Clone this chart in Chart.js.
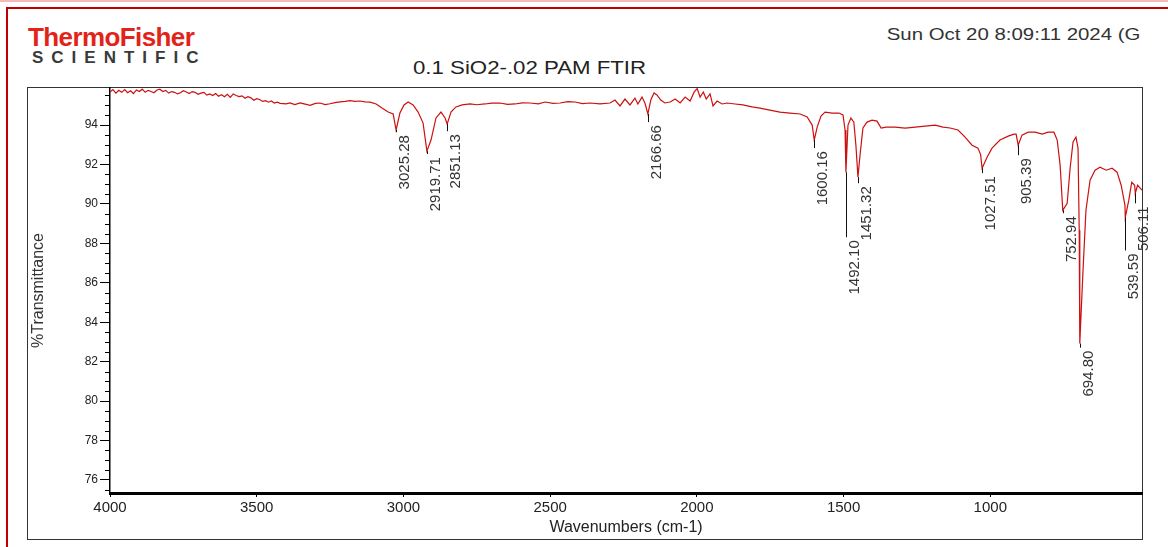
<!DOCTYPE html>
<html>
<head>
<meta charset="utf-8">
<script src="https://cdn.jsdelivr.net/npm/chart.js@4"></script>
<style>
  body { margin: 0; width: 1168px; height: 547px; overflow: hidden; background: #fff; position: relative; font-family: "Liberation Sans", Arial, sans-serif; }
  .pink { position: absolute; left: 0; top: 0; width: 1168px; height: 2px; background: #f6b9b9; }
  .redframe { position: absolute; left: 6px; top: 7px; width: 1200px; height: 600px; border-left: 2px solid #c00000; border-top: 2px solid #c00000; }
  .box { position: absolute; left: 27px; top: 87px; width: 1114px; height: 451px; border: 1px solid #333; }
  .logo1 { position: absolute; left: 28px; top: 24px; font-size: 26px; line-height: 26px; font-weight: bold; color: #e2231a; letter-spacing: -0.6px; }
  .logo2 { position: absolute; left: 32px; top: 49px; font-size: 17px; line-height: 17px; font-weight: bold; color: #3a3a3a; letter-spacing: 8px; }
  .date { position: absolute; right: 28px; top: 26px; font-size: 17px; line-height: 17px; color: #333; transform: scaleX(1.2); transform-origin: right center; white-space: nowrap; }
  .title { position: absolute; left: 413px; top: 58px; font-size: 19px; line-height: 19px; color: #222; transform: scaleX(1.17); transform-origin: left center; white-space: nowrap; }
  canvas { position: absolute; left: 0; top: 0; }
</style>
</head>
<body>
<div class="pink"></div>
<div class="redframe"></div>
<div class="box"></div>
<div class="logo1">ThermoFisher</div>
<div class="logo2">SCIENTIFIC</div>
<div class="date">Sun Oct 20 8:09:11 2024 (G</div>
<div class="title">0.1 SiO2-.02 PAM FTIR</div>
<canvas id="ftir" width="1168" height="547"></canvas>
<script>
// 光譜資料 (cm-1, %T)
const wavenumbers = [4000,3990,3980,3970,3960,3950,3940,3930,3920,3910,3900,3890,3880,3870,3860,3850,3840,3830,3820,3810,3800,3790,3780,3770,3760,3750,3740,3730,3720,3710,3700,3690,3680,3670,3660,3650,3640,3630,3620,3610,3600,3590,3580,3570,3560,3550,3540,3530,3520,3510,3500,3490,3480,3470,3460,3450,3440,3430,3420,3400,3387,3370,3352,3335,3318,3300,3284,3267,3250,3233,3216,3199,3182,3165,3148,3130,3114,3093,3073,3052,3035,3025,3012,2998,2984,2967,2950,2933,2920,2906,2889,2872,2858,2851,2838,2821,2800,2773,2750,2722,2700,2671,2645,2620,2595,2568,2540,2517,2490,2466,2440,2415,2390,2364,2330,2296,2279,2262,2245,2228,2211,2201,2187,2177,2167,2157,2146,2136,2123,2109,2091,2074,2057,2040,2023,2009,1999,1989,1978,1968,1955,1945,1931,1914,1897,1870,1843,1812,1785,1751,1717,1683,1648,1624,1607,1600,1590,1577,1563,1539,1516,1502,1495,1492,1485,1475,1465,1458,1451,1444,1434,1420,1403,1386,1372,1355,1325,1290,1256,1222,1188,1161,1137,1110,1086,1062,1042,1033,1028,1011,994,967,939,919,912,905,892,871,847,823,803,783,772,762,753,738,728,718,708,701,697,695,684,674,660,643,626,605,585,568,554,541,540,528,518,508,506,498,483];
const transmittance = [95.68,95.80,95.62,95.76,95.66,95.80,95.64,95.74,95.60,95.78,95.70,95.82,95.66,95.76,95.70,95.64,95.78,95.82,95.70,95.76,95.62,95.70,95.66,95.58,95.64,95.74,95.68,95.60,95.70,95.66,95.56,95.62,95.66,95.52,95.58,95.50,95.60,95.46,95.54,95.44,95.56,95.40,95.58,95.50,95.44,95.48,95.36,95.44,95.38,95.26,95.34,95.30,95.20,95.24,95.16,95.22,95.12,95.16,95.10,95.08,95.12,95.04,95.12,95.06,95.00,95.10,95.12,95.04,95.08,95.14,95.18,95.20,95.24,95.20,95.22,95.18,95.16,95.07,94.86,94.66,94.56,93.75,94.61,95.02,95.17,95.02,94.66,94.10,92.68,93.24,94.36,94.66,94.36,94.05,94.66,94.92,95.02,95.07,95.03,95.07,95.11,95.12,95.05,95.07,95.13,95.12,95.08,95.17,95.10,95.12,95.19,95.17,95.09,95.12,95.07,95.12,95.27,94.97,95.32,95.02,95.37,95.07,95.42,95.12,94.56,95.27,95.63,95.53,95.27,95.12,95.17,95.32,95.12,95.42,95.22,95.68,95.85,95.42,95.68,95.32,95.58,94.97,95.22,95.07,95.12,95.07,95.02,94.92,94.86,94.76,94.66,94.61,94.56,94.41,94.00,93.24,93.90,94.46,94.66,94.61,94.61,94.51,93.75,91.61,94.00,94.36,94.15,92.98,91.36,92.47,93.85,94.15,94.25,94.20,93.85,93.90,93.90,93.85,93.90,93.95,94.00,93.90,93.85,93.75,93.39,92.98,92.83,92.50,91.81,92.37,92.83,93.24,93.44,93.54,93.54,92.98,93.49,93.64,93.64,93.54,93.64,93.64,93.24,91.97,89.68,90.03,91.81,93.14,93.39,92.83,88.66,82.92,86.63,89.68,91.20,91.71,91.86,91.71,91.81,91.61,90.95,89.93,89.32,90.19,91.10,90.95,90.54,90.95,90.70];

// 標峰：位置、峰底 %T、標線末端 %T
const peakLabels = ['3025.28','2919.71','2851.13','2166.66','1600.16','1492.10','1451.32','1027.51','905.39','752.94','694.80','539.59','506.11'];
const peakWaves = [3025.28,2919.71,2851.13,2166.66,1600.16,1492.10,1451.32,1027.51,905.39,752.94,694.80,539.59,506.11];
const peakTs = [93.75,92.68,94.05,94.56,93.24,91.61,91.36,91.81,92.98,89.68,82.92,89.32,90.54];
const peakLineEnds = [93.64,92.53,93.69,94.15,92.83,88.31,91.05,91.56,92.47,89.53,82.71,87.64,90.03];

const xTicks = [4000,3500,3000,2500,2000,1500,1000];
const xMin = 483, xMax = 4000;
const yMin = 75.34, yMax = 95.88;
const yMinorStep = 0.5;

const FONT = '"Liberation Sans", Arial, sans-serif';

// 小刻度
const minorTicks = {
    id: 'minorTicks',
    afterDraw(chart) {
        const { ctx, chartArea, scales } = chart;
        const y = scales.y;
        ctx.save();
        ctx.strokeStyle = '#000';
        ctx.lineWidth = 1;
        for (let v = Math.ceil(yMin / yMinorStep) * yMinorStep; v <= yMax; v += yMinorStep) {
            if (Math.abs(v / 2 - Math.round(v / 2)) < 1e-6) continue;
            const py = Math.round(y.getPixelForValue(v)) + 0.5;
            ctx.beginPath();
            ctx.moveTo(chartArea.left - 5, py);
            ctx.lineTo(chartArea.left, py);
            ctx.stroke();
        }
        ctx.restore();
    }
};

// 峰值標註
const peakMarks = {
    id: 'peakMarks',
    afterDatasetsDraw(chart) {
        const { ctx, scales } = chart;
        ctx.save();
        ctx.strokeStyle = '#111';
        ctx.lineWidth = 1;
        ctx.fillStyle = '#333';
        ctx.font = '15px ' + FONT;
        peakWaves.forEach((w, i) => {
            const px = Math.round(scales.x.getPixelForValue(w)) + 0.5;
            const y1 = scales.y.getPixelForValue(peakTs[i]);
            const y2 = scales.y.getPixelForValue(peakLineEnds[i]);
            ctx.beginPath();
            ctx.moveTo(px, y1);
            ctx.lineTo(px, y2);
            ctx.stroke();
            ctx.save();
            ctx.translate(px + 1, y2 + 3);
            ctx.rotate(-Math.PI / 2);
            ctx.textAlign = 'right';
            ctx.textBaseline = 'top';
            ctx.fillText(peakLabels[i], 0, 0);
            ctx.restore();
        });
        ctx.restore();
    }
};

const ctx = document.getElementById('ftir').getContext('2d');
new Chart(ctx, {
    type: 'line',
    data: {
        datasets: [{
            data: wavenumbers.map((w, i) => ({ x: w, y: transmittance[i] })),
            borderColor: '#cc1010',
            borderWidth: 1.2,
            pointRadius: 0,
            tension: 0,
            fill: false
        }]
    },
    options: {
        responsive: false,
        animation: false,
        events: [],
        layout: { padding: { left: 27, top: 88, right: 26, bottom: 8 } },
        plugins: { legend: { display: false }, tooltip: { enabled: false } },
        scales: {
            x: {
                type: 'linear',
                reverse: true,
                min: xMin,
                max: xMax,
                afterBuildTicks: (scale) => { scale.ticks = xTicks.map(v => ({ value: v })); },
                afterFit: (scale) => { scale.height = 46; },
                ticks: { color: '#222', font: { family: FONT, size: 15 }, padding: 2, maxRotation: 0, autoSkip: false,
                         callback: (v) => String(v) },
                grid: { drawOnChartArea: false, tickLength: 4, color: '#000' },
                border: { display: true, color: '#000', width: 3 },
                title: { display: true, text: 'Wavenumbers (cm-1)', color: '#222', font: { family: FONT, size: 16 }, padding: { top: 0, bottom: 2 } }
            },
            y: {
                min: yMin,
                max: yMax,
                afterFit: (scale) => { scale.width = 83; },
                ticks: { stepSize: 2, includeBounds: false, color: '#222', font: { family: FONT, size: 12 }, padding: 2 },
                grid: { drawOnChartArea: false, tickLength: 10, color: '#000' },
                border: { display: true, color: '#000', width: 1.5 },
                title: { display: true, text: '%Transmittance', color: '#333', font: { family: FONT, size: 16 }, padding: { top: 2, bottom: 0 } }
            }
        }
    },
    plugins: [minorTicks, peakMarks]
});
</script>
</body>
</html>
